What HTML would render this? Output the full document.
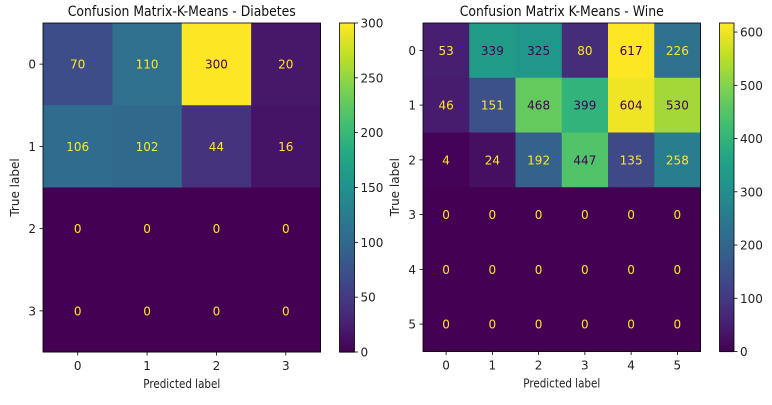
<!DOCTYPE html>
<html><head><meta charset="utf-8"><style>
body{margin:0;background:#fff;}
svg text{font-family:"DejaVu Sans","Liberation Sans",sans-serif;}
</style></head><body>
<svg id="c" width="772" height="400"></svg>
<script>
const diabCats=["0","1","2","3"];
const diabValues=[[70,110,300,20],[106,102,44,16],[0,0,0,0],[0,0,0,0]];
const diabTicks=[0,50,100,150,200,250,300];
const wineCats=["0","1","2","3","4","5"];
const wineValues=[[53,339,325,80,617,226],[46,151,468,399,604,530],[4,24,192,447,135,258],[0,0,0,0,0,0],[0,0,0,0,0,0],[0,0,0,0,0,0]];
const wineTicks=[0,100,200,300,400,500,600];

const VS=["#440154","#482475","#414487","#355f8d","#2a788e","#21918c","#22a884","#44bf70","#7ad151","#bddf26","#fde725"];
function hx(c){return [1,3,5].map(i=>parseInt(c.substr(i,2),16));}
function viridis(t){t=Math.max(0,Math.min(1,t));const p=t*10,i=Math.min(9,Math.floor(p)),f=p-i;const a=hx(VS[i]),b=hx(VS[i+1]);return "rgb("+a.map((v,k)=>Math.round(v+(b[k]-v)*f)).join(",")+")";}
const svg=document.getElementById("c");const NS="http://www.w3.org/2000/svg";
function el(tag,attrs,parent){const e=document.createElementNS(NS,tag);for(const k in attrs)e.setAttribute(k,attrs[k]);(parent||svg).appendChild(e);return e;}
function txt(s,attrs,parent){const e=el("text",attrs,parent);e.textContent=s;return e;}

function draw(o){
  const g=el("g",{});
  
  
  const vals=o.values,n=o.cats.length;
  let mx=0;vals.forEach(r=>r.forEach(v=>{if(v>mx)mx=v;}));
  const cw=(o.x1-o.x0)/n,ch=(o.y1-o.y0)/n;
  const xs=j=>o.x0+cw*(j+0.5),ys=i=>o.y0+ch*(i+0.5);
  vals.forEach((r,i)=>r.forEach((v,j)=>{
    const c=el("rect",{x:o.x0+cw*j,y:o.y0+ch*i,width:cw+0.5,height:ch+0.5,fill:viridis(v/mx)},g);
    
    
    const t=txt(String(v),{x:xs(j),y:ys(i)+4.5,"text-anchor":"middle","font-size":"12",fill:v/mx<0.5?"#fde725":"#440154"},g);
    
    
  }));
  el("rect",{x:o.x0,y:o.y0,width:o.x1-o.x0,height:o.y1-o.y0,fill:"none",stroke:"#000","stroke-width":0.8},g);
  o.cats.forEach((c,j)=>{
    el("line",{x1:xs(j),x2:xs(j),y1:o.y1,y2:o.y1+3.5,stroke:"#000","stroke-width":0.8},g);
    const t=txt(c,{x:xs(j),y:o.y1+18,"text-anchor":"middle","font-size":"12",fill:"#222"},g);
    
    
    el("line",{x1:o.x0-3.5,x2:o.x0,y1:ys(j),y2:ys(j),stroke:"#000","stroke-width":0.8},g);
    const u=txt(c,{x:o.x0-7,y:ys(j)+4.5,"text-anchor":"end","font-size":"12",fill:"#222"},g);
    
    
  });
  const tt=txt(o.title,{x:(o.x0+o.x1)/2,y:16,"text-anchor":"middle","font-size":"14",fill:"#111",textLength:o.tl,lengthAdjust:"spacingAndGlyphs"},g);
  
  
  const xl=txt("Predicted label",{x:(o.x0+o.x1)/2,y:o.y1+36,"text-anchor":"middle","font-size":"12",fill:"#222",textLength:77,lengthAdjust:"spacingAndGlyphs"},g);
  
  
  const yx=o.x0-o.ylo,yy=(o.y0+o.y1)/2;
  const yl=txt("True label",{x:yx,y:yy,"text-anchor":"middle","font-size":"12",fill:"#222",transform:"rotate(-90 "+yx+" "+yy+")"},g);
  
  
  const cb=el("g",{},g);
  
  
  const H=o.y1-o.y0,steps=100;
  for(let k=0;k<steps;k++){el("rect",{x:o.cx,y:o.y1-H*(k+1)/steps,width:o.cw,height:H/steps+0.6,fill:viridis((k+0.5)/steps)},cb);}
  el("rect",{x:o.cx,y:o.y0,width:o.cw,height:H,fill:"none",stroke:"#000","stroke-width":0.8},cb);
  o.ticks.forEach(v=>{
    const y=o.y1-H*v/mx;
    el("line",{x1:o.cx+o.cw,x2:o.cx+o.cw+3.5,y1:y,y2:y,stroke:"#000","stroke-width":0.8},cb);
    const t=txt(String(v),{x:o.cx+o.cw+6,y:y+4.5,"font-size":"12",fill:"#222"},cb);
    
    
  });
}
draw({name:"diabetes-confusion-matrix",title:"Confusion Matrix-K-Means - Diabetes",tl:228,cats:diabCats,values:diabValues,ticks:diabTicks,x0:43,x1:320.5,y0:23,y1:352,cx:339.5,cw:15,ylo:24});
draw({name:"wine-confusion-matrix",title:"Confusion Matrix K-Means - Wine",tl:204,cats:wineCats,values:wineValues,ticks:wineTicks,x0:423,x1:700.5,y0:23,y1:351.5,cx:719.5,cw:14.5,ylo:24});
</script>
</body></html>
